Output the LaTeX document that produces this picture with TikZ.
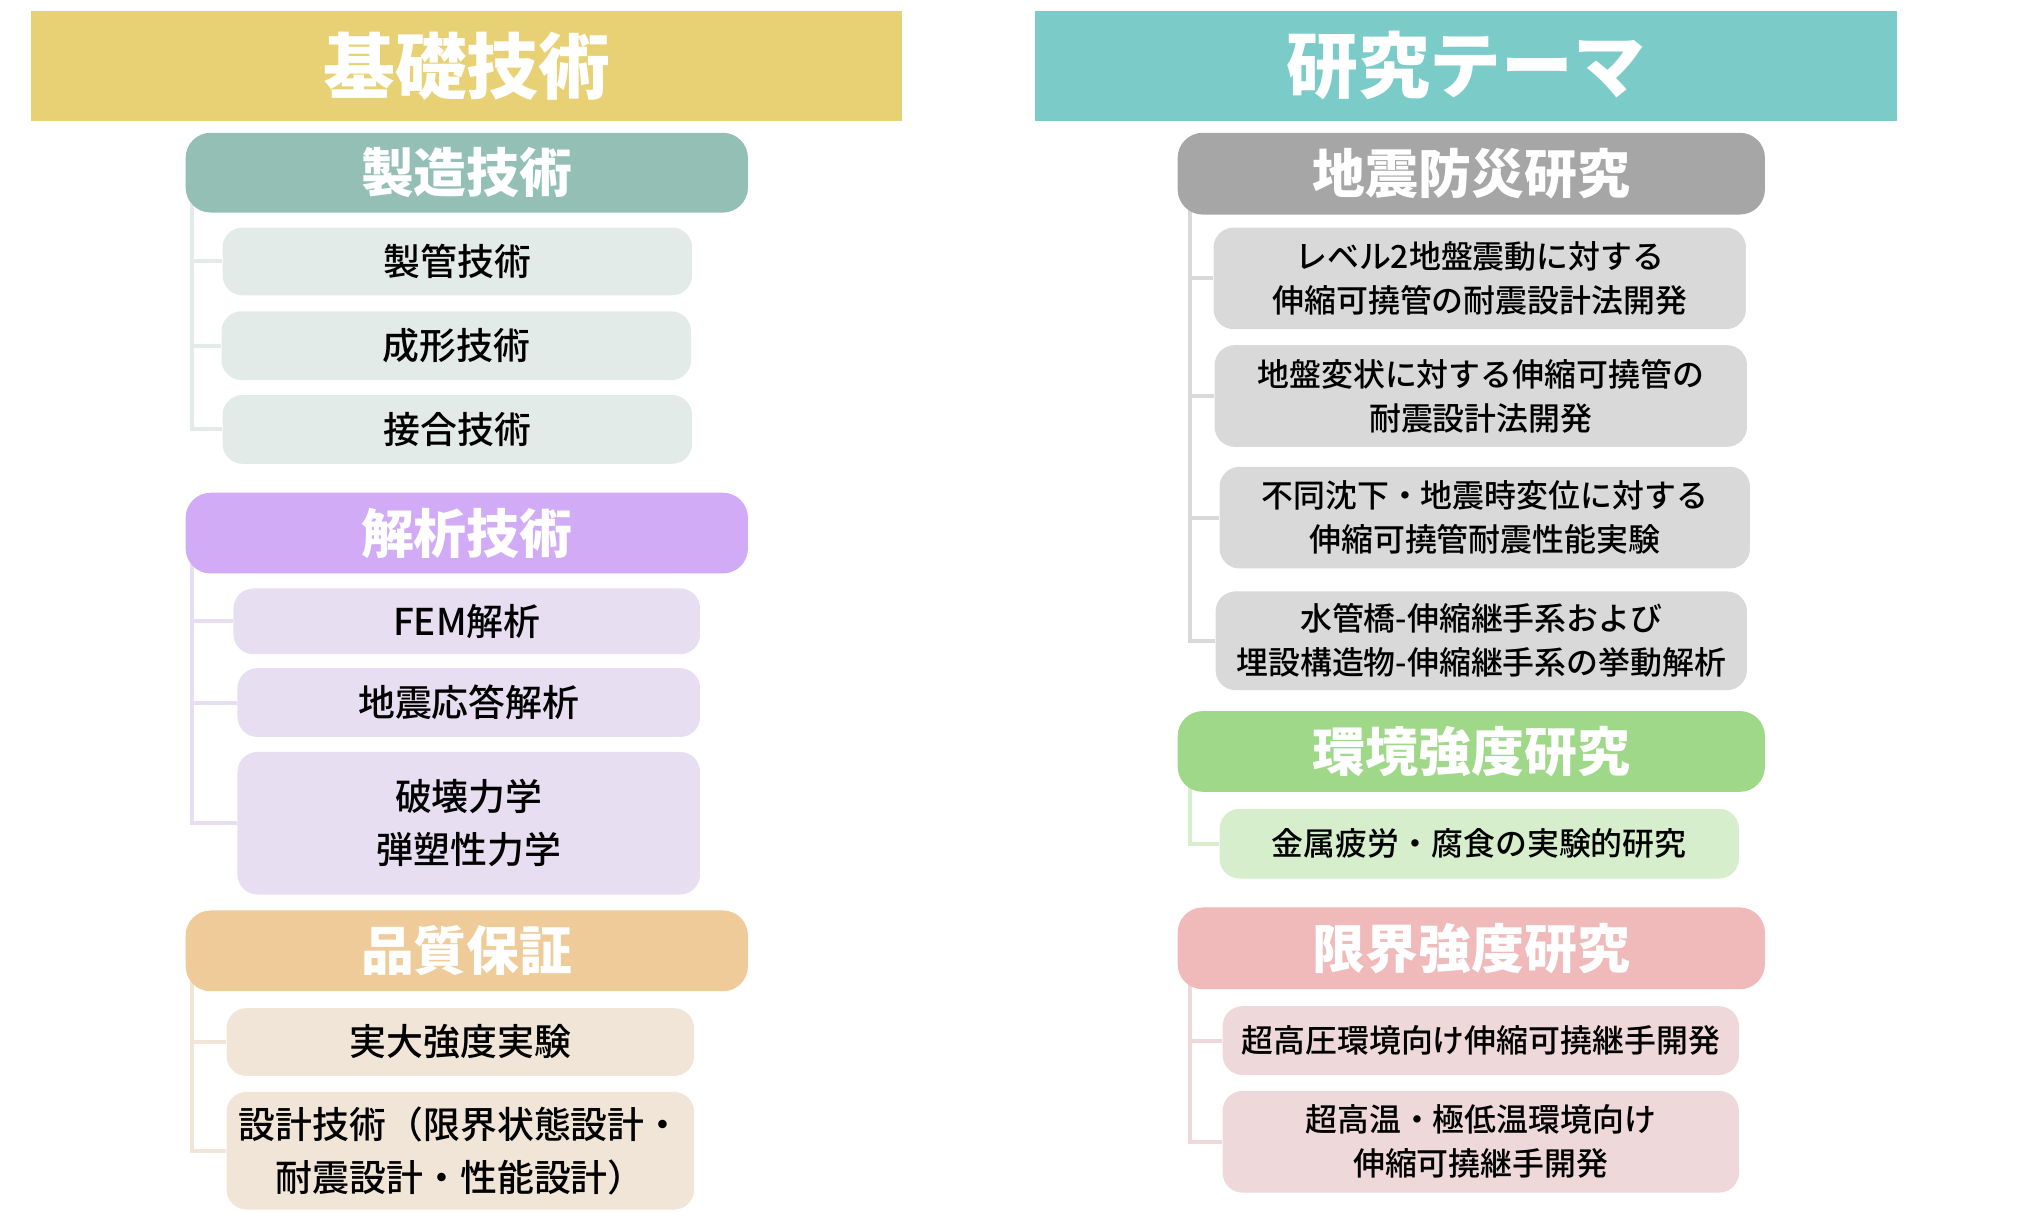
\documentclass[tikz,border=0pt]{standalone}
\usepackage{fontspec}
\setmainfont{Noto Sans CJK JP}
\newfontfamily\medfont{Noto Sans CJK JP Medium}
\usepackage{tikz}
\usetikzlibrary{positioning}
\usetikzlibrary{backgrounds}

\definecolor{basiccol}{HTML}{E8D174}
\definecolor{themecol}{HTML}{7BCBC9}
\definecolor{mfgcol}{HTML}{94BFB4}
\definecolor{mfglight}{HTML}{E3EBE8}
\definecolor{anacol}{HTML}{D1ABF5}
\definecolor{analight}{HTML}{E8DEF2}
\definecolor{qacol}{HTML}{EECB98}
\definecolor{qalight}{HTML}{F0E5D6}
\definecolor{seiscol}{HTML}{A6A6A6}
\definecolor{seislight}{HTML}{D9D9D9}
\definecolor{envcol}{HTML}{9FD888}
\definecolor{envlight}{HTML}{D6EECB}
\definecolor{limcol}{HTML}{F0BABA}
\definecolor{limlight}{HTML}{EED8D9}

\begin{document}
\begin{tikzpicture}[x=1pt, y=-1pt,
		topbar/.style={
			anchor=north west,
			inner sep=0pt,
			text=white,
			font=\fontsize{72}{80}\selectfont\bfseries,
		},
		grouphead/.style={
			anchor=north west,
			rounded corners=25pt,
			inner sep=0pt,
			text=white,
			font=\fontsize{53}{60}\selectfont\bfseries,
		},
		item/.style={
			anchor=north west,
			rounded corners=20pt,
			inner sep=0pt,
			align=center,
			font=\fontsize{37}{53}\selectfont\medfont,
		},
		ritem/.style={item, font=\fontsize{32}{44}\selectfont\medfont},
		branch/.style={line width=4pt}]
		\useasboundingbox (0,0) rectangle (2018,1228);
		
		% left column
		\begin{scope}[scale=0.997, transform shape]
		\node[topbar, fill=basiccol, minimum width=874pt, minimum height=110pt] (basic) at (31,11) {基礎技術};
		
		\node[grouphead, fill=mfgcol, minimum width=564pt, minimum height=80pt] (mfg) at (186,133) {製造技術};
		\node[item, fill=mfglight, minimum width=471pt, minimum height=68pt] (pipe) at (223,228) {製管技術};
		\node[item, fill=mfglight, minimum width=471pt, minimum height=69pt] (form) at (222,312) {成形技術};
		\node[item, fill=mfglight, minimum width=471pt, minimum height=69pt] (join) at (223,396) {接合技術};
		
		\node[grouphead, fill=anacol, minimum width=564pt, minimum height=81pt] (ana) at (186,494) {解析技術};
		\node[item, fill=analight, minimum width=468pt, minimum height=66pt] (fem) at (234,590) {FEM解析};
		\node[item, fill=analight, minimum width=464pt, minimum height=69pt] (resp) at (238,670) {地震応答解析};
		\node[item, fill=analight, minimum width=464pt, minimum height=143pt] (frac) at (238,754) {破壊力学\\弾塑性力学};
		
		\node[grouphead, fill=qacol, minimum width=564pt, minimum height=81pt] (qa) at (186,913) {品質保証};
		\node[item, fill=qalight, minimum width=469pt, minimum height=68pt] (full) at (227,1011) {実大強度実験};
		\node[item, fill=qalight, minimum width=469pt, minimum height=118pt] (design) at (227,1095) {設計技術（限界状態設計・\\耐震設計・性能設計）};
		
		\begin{scope}[on background layer]
			\draw[branch, mfglight] (mfg.south west) ++(7,-10) |- (pipe.west);
			\draw[branch, mfglight] (mfg.south west) ++(7,-10) |- (form.west);
			\draw[branch, mfglight] (mfg.south west) ++(7,-10) |- (join.west);
			
			\draw[branch, analight] (ana.south west) ++(7,-10) |- (fem.west);
			\draw[branch, analight] (ana.south west) ++(7,-10) |- (resp.west);
			\draw[branch, analight] (ana.south west) ++(7,-10) |- (frac.west);
			
			\draw[branch, qalight] (qa.south west) ++(7,-10) |- (full.west);
			\draw[branch, qalight] (qa.south west) ++(7,-10) |- (design.west);
		\end{scope}
		\end{scope}
		
		% right column
		\begin{scope}[scale around={0.997:(1008,0)}, transform shape]
		\node[topbar, fill=themecol, minimum width=864pt, minimum height=110pt] (theme) at (1035,11) {研究テーマ};
		
		\node[grouphead, fill=seiscol, minimum width=589pt, minimum height=82pt] (seis) at (1178,133) {地震防災研究};
		\node[ritem, fill=seislight, minimum width=534pt, minimum height=102pt] (lvl) at (1214,228) {レベル2地盤震動に対する\\伸縮可撓管の耐震設計法開発};
		\node[ritem, fill=seislight, minimum width=534pt, minimum height=102pt] (ground) at (1215,346) {地盤変状に対する伸縮可撓管の\\耐震設計法開発};
		\node[ritem, fill=seislight, minimum width=532pt, minimum height=102pt] (settle) at (1220,468) {不同沈下・地震時変位に対する\\伸縮可撓管耐震性能実験};
		\node[ritem, fill=seislight, minimum width=533pt, minimum height=99pt] (bridge) at (1216,593) {水管橋-伸縮継手系および\\埋設構造物-伸縮継手系の挙動解析};
		
		\node[grouphead, fill=envcol, minimum width=589pt, minimum height=81pt] (env) at (1178,713) {環境強度研究};
		\node[ritem, fill=envlight, minimum width=521pt, minimum height=70pt] (fatigue) at (1220,811) {金属疲労・腐食の実験的研究};
		
		\node[grouphead, fill=limcol, minimum width=589pt, minimum height=82pt] (limit) at (1178,910) {限界強度研究};
		\node[ritem, fill=limlight, minimum width=518pt, minimum height=69pt] (press) at (1223,1009) {超高圧環境向け伸縮可撓継手開発};
		\node[ritem, fill=limlight, minimum width=518pt, minimum height=102pt] (temp) at (1223,1094) {超高温・極低温環境向け\\伸縮可撓継手開発};
		
		\begin{scope}[on background layer]
			\draw[branch, seislight] (seis.south west) ++(13,-10) |- (lvl.west);
			\draw[branch, seislight] (seis.south west) ++(13,-10) |- (ground.west);
			\draw[branch, seislight] (seis.south west) ++(13,-10) |- (settle.west);
			\draw[branch, seislight] (seis.south west) ++(13,-10) |- (bridge.west);
			
			\draw[branch, envlight] (env.south west) ++(13,-10) |- (fatigue.west);
			
			\draw[branch, limlight] (limit.south west) ++(13,-10) |- (press.west);
			\draw[branch, limlight] (limit.south west) ++(13,-10) |- (temp.west);
		\end{scope}
		\end{scope}
	\end{tikzpicture}
\end{document}
